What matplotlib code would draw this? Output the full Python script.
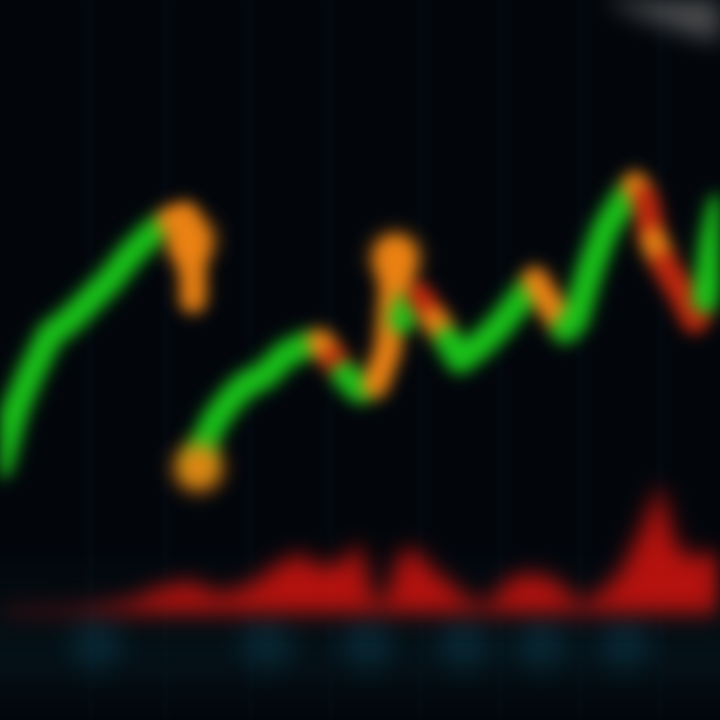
import numpy as np
import matplotlib
matplotlib.use("Agg")
import matplotlib.pyplot as plt
from matplotlib.collections import LineCollection
from matplotlib.patches import Ellipse

# ---- data ----
# price trace, segment A
days_a = [-0.5, 0.5, 1.5, 3, 5, 7, 9, 11, 13, 15, 17, 18.5, 19, 19.3, 19.3]
price_a = [24, 27.5, 31, 34.5, 38.5, 40, 42, 44, 46.5, 48.5, 50, 50.5, 47, 44, 42]
state_a = ['g', 'g', 'g', 'g', 'g', 'g', 'g', 'g', 'g', 'g', 'g', 'o', 'o', 'o', 'o']
# price trace, segment B
days_b = [19.8, 20.3, 21.5, 23, 24.5, 26.5, 28.5, 30.5, 32, 33.5, 34.5, 36, 37.5,
          38.8, 39.5, 40.2, 41, 41.8, 43.5, 44.8, 46, 48, 50, 52, 53.5, 55, 56.5,
          57.5, 59, 60.5, 62, 63.5, 64.5, 65.3, 66.5, 68, 69.5, 70.5, 71.3, 72.5]
price_b = [25.5, 27.5, 30, 32, 33.5, 34.5, 36.5, 37.5, 37.8, 36, 34.5, 33, 33.5,
           37, 46.5, 40, 42, 42.5, 40, 38, 36, 37.5, 39.5, 42, 44, 41.5, 39,
           40, 45, 49, 51.5, 53.5, 52, 48, 45.5, 43, 40, 42, 48, 53]
state_b = ['o', 'g', 'g', 'g', 'g', 'g', 'g', 'g', 'g', 'o', 'r', 'g', 'g',
           'o', 'o', 'o', 'g', 'g', 'r', 'o', 'g', 'g', 'g', 'g', 'g', 'o', 'o',
           'g', 'g', 'g', 'g', 'g', 'o', 'r', 'o', 'r', 'r', 'r', 'g', 'g']
# volume
vol_days = [0, 8, 13, 16, 19, 22, 25, 28, 30, 32, 34, 36, 37.3, 38.5, 40, 41.5,
            43, 45, 47, 49, 51, 53.5, 56, 58, 60, 62, 64, 66, 67.5, 69, 71, 72.5]
vol_vals = [0.3, 0.5, 1.2, 2.5, 3.2, 1.8, 2.8, 5.0, 6.0, 4.5, 5.0, 7.0, 1.5, 1.0,
            6.0, 6.5, 4.5, 3.0, 1.2, 1.0, 3.5, 4.0, 3.0, 0.8, 2.0, 4.0, 8.0,
            13.0, 7.0, 5.5, 6.0, 6.0]
# faint blue markers along the bottom
marker_days = [9.6, 26.6, 36.7, 46.3, 54.1, 62.4]
marker_level = [7.7, 7.7, 7.7, 7.7, 7.7, 7.7]

COL = {'g': '#1ac61a', 'o': '#ee8414', 'r': '#c4280e'}


class Blur:
    """agg filter: gaussian blur in premultiplied space."""
    def __init__(self, sigma_px):
        self.sigma = sigma_px
        self.pad = int(3 * sigma_px) + 1
        r = np.arange(-self.pad, self.pad + 1)
        k = np.exp(-0.5 * (r / sigma_px) ** 2)
        self.k = k / k.sum()

    def _conv(self, a, axis):
        out = np.zeros_like(a)
        n = a.shape[axis]
        p = self.pad
        for i, w in enumerate(self.k):
            s = i - p
            lo, hi = max(0, s), min(n, n + s)
            if axis == 0:
                out[lo - s:hi - s] += w * a[lo:hi]
            else:
                out[:, lo - s:hi - s] += w * a[:, lo:hi]
        return out

    def __call__(self, im, dpi):
        p = self.pad
        src = np.pad(im, [(p, p), (p, p), (0, 0)], mode='constant')
        pm = src.copy()
        pm[..., :3] *= pm[..., 3:4]
        pm = self._conv(self._conv(pm, 0), 1)
        a = pm[..., 3:4]
        out = np.zeros_like(pm)
        out[..., :3] = np.where(a > 1e-6, pm[..., :3] / np.maximum(a, 1e-6), 0)
        out[..., 3:4] = np.clip(a, 0, 1)
        out[..., :3] = np.clip(out[..., :3], 0, 1)
        return out, -p, -p


fig = plt.figure(figsize=(7.2, 7.2), dpi=100)
fig.patch.set_facecolor('#020610')
ax = fig.add_axes([0, 0, 1, 1])
ax.set_xlim(0, 72)
ax.set_ylim(0, 72)
ax.axis('off')

# background gradient (dark navy, slightly bluer near the bottom strip); row 0 = top
grad = np.linspace(0, 1, 256).reshape(-1, 1)
bg_top = np.array([0.008, 0.024, 0.045])
bg_bot = np.array([0.02, 0.07, 0.095])
w = np.clip((grad - 0.76) / 0.16, 0, 1) * np.clip((1.0 - grad) / 0.09, 0, 1)
img = (bg_top + (bg_bot - bg_top) * w).reshape(256, 1, 3)
ax.imshow(img, extent=[0, 72, 0, 72], origin='upper', aspect='auto', zorder=0,
          interpolation='bilinear')
ax.set_xlim(0, 72)
ax.set_ylim(0, 72)

# faint vertical grid
for gx in [9, 16.5, 25, 33, 42, 50, 58, 66]:
    ln = ax.axvline(gx, color='#0d2234', lw=2.5, alpha=0.25, zorder=1)
    ln.set_agg_filter(Blur(3))

# top-right glow
glow = Ellipse((69, 71.8), 30, 6, angle=-18, color='#6e6e6e', alpha=0.7, lw=0,
               zorder=1, clip_on=False)
ax.add_patch(glow)
glow.set_agg_filter(Blur(12))

# blue markers
mk = ax.scatter(marker_days, marker_level, s=1300, color='#0e4254', alpha=0.5, lw=0, zorder=2)
mk.set_agg_filter(Blur(10))

# volume axes
axv = fig.add_axes([0, 107 / 720, 1, 165 / 720])
axv.set_xlim(0, 72)
axv.set_ylim(0, 16.5)
axv.axis('off')
axv.patch.set_alpha(0)
vf = axv.fill_between(vol_days, 0, vol_vals, color='#c8140f', alpha=0.92, lw=0)
vf.set_agg_filter(Blur(8))


def draw_trace(days, price, state):
    pts = np.column_stack([days, price])
    segs = np.stack([pts[:-1], pts[1:]], axis=1)
    cols = [COL[s] for s in state[1:]]
    lc = LineCollection(segs, colors=cols, linewidths=19,
                        capstyle='round', joinstyle='round', zorder=5)
    ax.add_collection(lc)
    lc.set_agg_filter(Blur(8))


draw_trace(days_a, price_a, state_a)
draw_trace(days_b, price_b, state_b)

# orange blobs at the pivots
blob_days = [days_a[12], days_b[0], days_b[14]]
blob_price = [48.0, 25.3, 46.3]
bl = ax.scatter(blob_days, blob_price, s=1200, color=COL['o'], alpha=0.95, lw=0, zorder=6)
bl.set_agg_filter(Blur(7))

fig.savefig('out.png', dpi=100, facecolor=fig.get_facecolor())
